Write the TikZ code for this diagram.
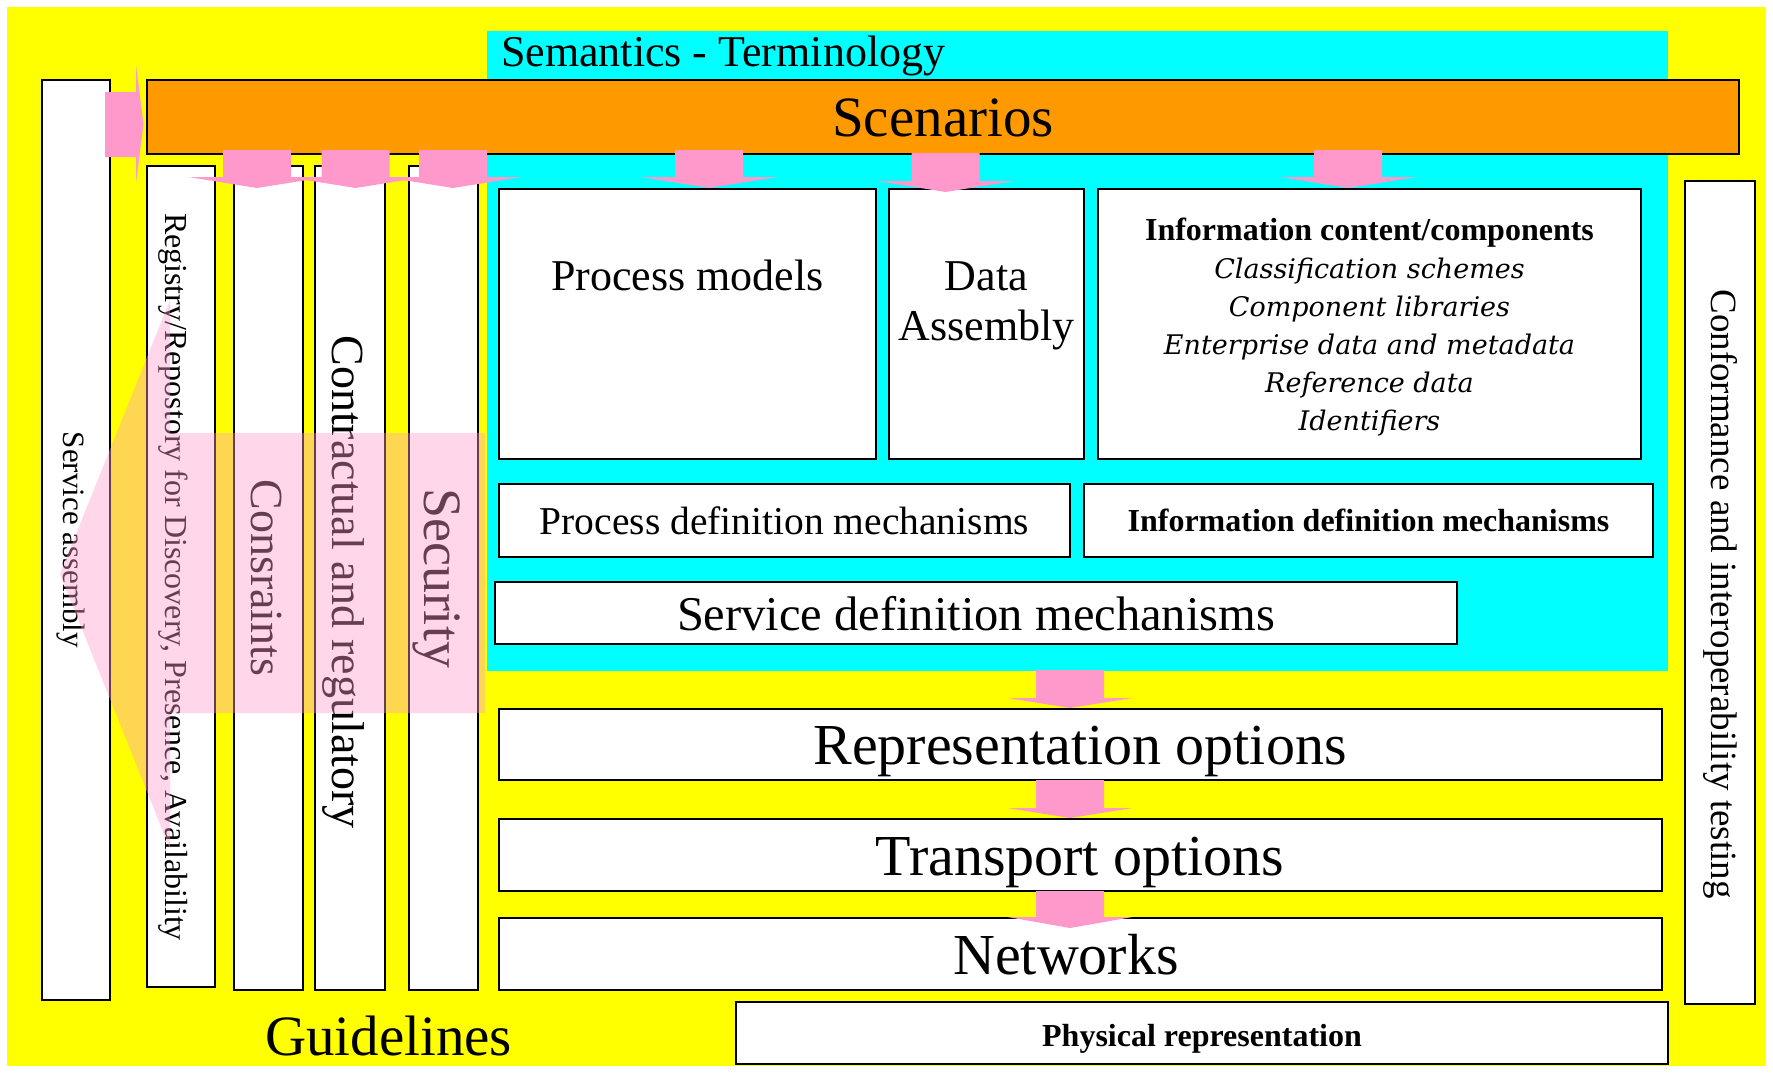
\documentclass[tikz,border=0pt]{standalone}
\usepackage{fontspec}
\setmainfont{Liberation Serif}
\newfontfamily\slabserif{DejaVu Serif}
\newcommand\fsz[1]{\fontsize{#1}{#1}\selectfont}
\definecolor{bgyellow}{HTML}{FFFF00}
\definecolor{semcyan}{HTML}{00FFFF}
\definecolor{scenorange}{HTML}{FF9900}
\definecolor{flowpink}{HTML}{FF99CC}
\tikzset{
  box/.style={draw=black, line width=1.8pt, fill=white, inner sep=0pt, outer sep=0pt, anchor=north west},
  pinkarrow/.style={fill=flowpink},
  lbl/.style={inner sep=0pt, outer sep=0pt, text=black},
  vlbl/.style={lbl, rotate=-90, anchor=base},
}
% vertical block arrow: centre x, body top, head base, tip, half head width
\newcommand\pinkdown[5]{%
  \fill[pinkarrow] ({#1-34},#2) -- ({#1+34},#2) -- ({#1+34},#3) -- ({#1+#5},#3)
    -- (#1,#4) -- ({#1-#5},#3) -- ({#1-34},#3) -- cycle;}
\begin{document}
\begin{tikzpicture}[x=1pt,y=-1pt]
\useasboundingbox (0,0) rectangle (1773,1072);
\fill[white] (0,0) rectangle (1773,1072);
\fill[bgyellow] (7,7) rectangle (1766,1066);
\fill[semcyan] (487,31) rectangle (1668,671);

% title of the semantic layer
\node[lbl, anchor=base west] (sem) at (501,66) {\fsz{44}Semantics - Terminology};

% scenarios bar
\node[box, fill=scenorange, minimum width=1592pt, minimum height=74pt] (scen) at (147,80) {};
\node[lbl] (scent) at (943,118) {\fsz{57}Scenarios};

% vertical columns on the left
\node[box, minimum width=68pt, minimum height=920pt] (svc) at (42,80) {};
\node[box, minimum width=68pt, minimum height=821pt] (reg) at (147,166) {};
\node[box, minimum width=69pt, minimum height=824pt] (cons) at (234,166) {};
\node[box, minimum width=70pt, minimum height=824pt] (contr) at (315,166) {};
\node[box, minimum width=69pt, minimum height=824pt] (sec) at (409,166) {};
\node[box, minimum width=70pt, minimum height=823pt] (conf) at (1685,181) {};

\node[vlbl] (svct) at (63,540) {\fsz{31}Service assembly};
\node[vlbl] (regt) at (165,577) {\fsz{32}Registry/Repostory for Discovery, Presence, Availability};
\node[vlbl] (const) at (251,578) {\fsz{46}Consraints};
\node[vlbl] (contrt) at (332,582) {\fsz{46}Contractual and regulatory};
\node[vlbl] (sect) at (424,578) {\fsz{54}Security};
\node[vlbl] (conft) at (1711,594) {\fsz{37}Conformance and interoperability testing};

% semantic content boxes
\node[box, minimum width=377pt, minimum height=270pt] (pm) at (499,189) {};
\node[box, minimum width=195pt, minimum height=270pt] (da) at (889,189) {};
\node[box, minimum width=543pt, minimum height=270pt] (ic) at (1098,189) {};
\node[box, minimum width=571pt, minimum height=73pt] (pdm) at (499,484) {};
\node[box, minimum width=569pt, minimum height=73pt] (idm) at (1084,484) {};
\node[box, minimum width=962pt, minimum height=62pt] (sdm) at (495,582) {};

\node[lbl, anchor=base] (pmt) at (687.5,290) {\fsz{44}Process models};
\node[lbl, anchor=base] (dat1) at (986.5,290) {\fsz{44}Data};
\node[lbl, anchor=base] (dat2) at (986.5,340) {\fsz{44}Assembly};
\node[lbl, anchor=base] (ict) at (1369.5,240) {\fsz{32}\bfseries Information content/components};
\node[lbl, anchor=base] (ic1) at (1369.5,278) {\fsz{27}\slabserif\itshape Classification schemes};
\node[lbl, anchor=base] (ic2) at (1369.5,316) {\fsz{27}\slabserif\itshape Component libraries};
\node[lbl, anchor=base] (ic3) at (1369.5,354) {\fsz{27}\slabserif\itshape Enterprise data and metadata};
\node[lbl, anchor=base] (ic4) at (1369.5,392) {\fsz{27}\slabserif\itshape Reference data};
\node[lbl, anchor=base] (ic5) at (1369.5,430) {\fsz{27}\slabserif\itshape Identifiers};
\node[lbl] (pdmt) at (784.5,520.5) {\fsz{39.5}Process definition mechanisms};
\node[lbl] (idmt) at (1368.5,520.5) {\fsz{32}\bfseries Information definition mechanisms};
\node[lbl] (sdmt) at (976,614) {\fsz{48.5}Service definition mechanisms};

% technical layers
\node[box, minimum width=1163pt, minimum height=71pt] (rep) at (499,709) {};
\node[box, minimum width=1163pt, minimum height=72pt] (tra) at (499,819) {};
\node[box, minimum width=1163pt, minimum height=72pt] (net) at (499,918) {};
\node[box, minimum width=932pt, minimum height=62pt] (phy) at (736,1002) {};
\node[lbl] (rept) at (1080,751.5) {\fsz{58}Representation options};
\node[lbl] (trat) at (1080,862) {\fsz{58}Transport options};
\node[lbl] (nett) at (1066,955) {\fsz{58}Networks};
\node[lbl] (phyt) at (1202,1039) {\fsz{32}\bfseries Physical representation};
\node[lbl, anchor=base] (guide) at (388.5,1055) {\fsz{57}Guidelines};

% block arrows
\fill[pinkarrow] (105,92) -- (136,92) -- (136,65) -- (143.5,124) -- (136,183)
  -- (136,157) -- (105,157) -- cycle;
\pinkdown{257}{150}{177}{188}{68.5}
\pinkdown{355.5}{150}{177}{188}{68.5}
\pinkdown{453}{150}{177}{188}{68.5}
\pinkdown{709}{150}{177}{188}{68.5}
\pinkdown{945.5}{153}{181}{192}{68.5}
\pinkdown{1348}{150}{177}{188}{68.5}
\pinkdown{1070}{670}{698}{708}{62.5}
\pinkdown{1070}{780}{808}{818}{62.5}
\pinkdown{1070}{891}{917}{928}{62.5}

% translucent arrow towards service assembly
\fill[flowpink, fill opacity=0.4] (485,433) -- (170,433) -- (170,300) -- (60,574)
  -- (170,849) -- (170,713) -- (485,713) -- cycle;
\end{tikzpicture}
\end{document}
